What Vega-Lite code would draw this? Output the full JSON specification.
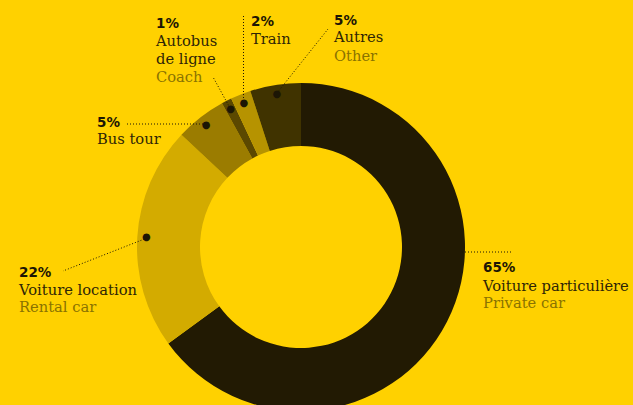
{
  "$schema": "https://vega.github.io/schema/vega-lite/v6.json",
  "autosize": "none",
  "width": 633,
  "height": 405,
  "padding": 0,
  "background": "#FFD100",
  "config": {"view": {"stroke": null}},
  "data": {"values": [
    {"cat": "private", "fr": "Voiture particulière", "en": "Private car", "share": 0.65, "rank": 1},
    {"cat": "rental", "fr": "Voiture location", "en": "Rental car", "share": 0.22, "rank": 2},
    {"cat": "bustour", "fr": "Bus tour", "en": "", "share": 0.05, "rank": 3},
    {"cat": "coach", "fr": "Autobus\nde ligne", "en": "Coach", "share": 0.01, "rank": 4},
    {"cat": "train", "fr": "Train", "en": "", "share": 0.02, "rank": 5},
    {"cat": "other", "fr": "Autres", "en": "Other", "share": 0.05, "rank": 6}
  ]},
  "layer": [
    {
      "mark": {"type": "arc", "x": 301, "y": 247, "outerRadius": 164, "innerRadius": 101},
      "encoding": {
        "theta": {"field": "share", "type": "quantitative", "stack": true},
        "order": {"field": "rank", "type": "quantitative"},
        "color": {"field": "cat", "type": "nominal", "legend": null,
          "scale": {"domain": ["private", "rental", "bustour", "coach", "train", "other"],
                    "range": ["#221a03", "#d3ab00", "#9b7c00", "#5b4800", "#b69300", "#403300"]}}
      }
    },
    {
      "mark": {"type": "text", "x": 301, "y": 247, "radius": 155, "text": "●", "fontSize": 10, "font": "DejaVu Sans", "align": "center", "baseline": "middle"},
      "encoding": {
        "theta": {"field": "share", "type": "quantitative", "stack": true},
        "order": {"field": "rank", "type": "quantitative"},
        "color": {"condition": {"test": "datum.cat == 'private'", "value": "#221a03"}, "value": "#1c1605"}
      }
    },
    {"data": {"values": [{}]}, "mark": {"type": "rule", "stroke": "#1c1605", "strokeDash": [1, 2], "strokeWidth": 1}, "encoding": {"x": {"value": 462}, "y": {"value": 252}, "x2": {"value": 511}, "y2": {"value": 252}}},
    {"data": {"values": [{}]}, "mark": {"type": "rule", "stroke": "#1c1605", "strokeDash": [1, 2], "strokeWidth": 1}, "encoding": {"x": {"value": 147}, "y": {"value": 238}, "x2": {"value": 63}, "y2": {"value": 271}}},
    {"data": {"values": [{}]}, "mark": {"type": "rule", "stroke": "#1c1605", "strokeDash": [1, 2], "strokeWidth": 1}, "encoding": {"x": {"value": 127}, "y": {"value": 124}, "x2": {"value": 206}, "y2": {"value": 124}}},
    {"data": {"values": [{}]}, "mark": {"type": "rule", "stroke": "#1c1605", "strokeDash": [1, 2], "strokeWidth": 1}, "encoding": {"x": {"value": 230}, "y": {"value": 108}, "x2": {"value": 213}, "y2": {"value": 77}}},
    {"data": {"values": [{}]}, "mark": {"type": "rule", "stroke": "#1c1605", "strokeDash": [1, 2], "strokeWidth": 1}, "encoding": {"x": {"value": 243.5}, "y": {"value": 101}, "x2": {"value": 243.5}, "y2": {"value": 16}}},
    {"data": {"values": [{}]}, "mark": {"type": "rule", "stroke": "#1c1605", "strokeDash": [1, 2], "strokeWidth": 1}, "encoding": {"x": {"value": 277}, "y": {"value": 93}, "x2": {"value": 328}, "y2": {"value": 29}}},

    {"transform": [{"filter": "datum.cat == 'private'"}], "mark": {"type": "text", "x": 483, "y": 272, "align": "left", "baseline": "alphabetic", "font": "DejaVu Sans", "fontWeight": "bold", "fontSize": 13.5, "color": "#1c1605"}, "encoding": {"text": {"field": "share", "type": "quantitative", "format": ".0%"}}},
    {"transform": [{"filter": "datum.cat == 'private'"}], "mark": {"type": "text", "x": 483, "y": 291, "align": "left", "baseline": "alphabetic", "font": "DejaVu Serif", "fontSize": 14.7, "color": "#2e2506"}, "encoding": {"text": {"field": "fr"}}},
    {"transform": [{"filter": "datum.cat == 'private'"}], "mark": {"type": "text", "x": 483, "y": 308, "align": "left", "baseline": "alphabetic", "font": "DejaVu Serif", "fontSize": 14.7, "color": "#8a7300"}, "encoding": {"text": {"field": "en"}}},

    {"transform": [{"filter": "datum.cat == 'rental'"}], "mark": {"type": "text", "x": 19, "y": 277, "align": "left", "baseline": "alphabetic", "font": "DejaVu Sans", "fontWeight": "bold", "fontSize": 13.5, "color": "#1c1605"}, "encoding": {"text": {"field": "share", "type": "quantitative", "format": ".0%"}}},
    {"transform": [{"filter": "datum.cat == 'rental'"}], "mark": {"type": "text", "x": 19, "y": 295, "align": "left", "baseline": "alphabetic", "font": "DejaVu Serif", "fontSize": 14.7, "color": "#2e2506"}, "encoding": {"text": {"field": "fr"}}},
    {"transform": [{"filter": "datum.cat == 'rental'"}], "mark": {"type": "text", "x": 19, "y": 312, "align": "left", "baseline": "alphabetic", "font": "DejaVu Serif", "fontSize": 14.7, "color": "#8a7300"}, "encoding": {"text": {"field": "en"}}},

    {"transform": [{"filter": "datum.cat == 'bustour'"}], "mark": {"type": "text", "x": 97, "y": 127, "align": "left", "baseline": "alphabetic", "font": "DejaVu Sans", "fontWeight": "bold", "fontSize": 13.5, "color": "#1c1605"}, "encoding": {"text": {"field": "share", "type": "quantitative", "format": ".0%"}}},
    {"transform": [{"filter": "datum.cat == 'bustour'"}], "mark": {"type": "text", "x": 97, "y": 144, "align": "left", "baseline": "alphabetic", "font": "DejaVu Serif", "fontSize": 14.7, "color": "#2e2506"}, "encoding": {"text": {"field": "fr"}}},

    {"transform": [{"filter": "datum.cat == 'coach'"}], "mark": {"type": "text", "x": 156, "y": 27.5, "align": "left", "baseline": "alphabetic", "font": "DejaVu Sans", "fontWeight": "bold", "fontSize": 13.5, "color": "#1c1605"}, "encoding": {"text": {"field": "share", "type": "quantitative", "format": ".0%"}}},
    {"transform": [{"filter": "datum.cat == 'coach'"}], "mark": {"type": "text", "x": 156, "y": 45.5, "align": "left", "baseline": "alphabetic", "lineBreak": "\n", "lineHeight": 18, "font": "DejaVu Serif", "fontSize": 14.7, "color": "#2e2506"}, "encoding": {"text": {"field": "fr"}}},
    {"transform": [{"filter": "datum.cat == 'coach'"}], "mark": {"type": "text", "x": 156, "y": 81.5, "align": "left", "baseline": "alphabetic", "font": "DejaVu Serif", "fontSize": 14.7, "color": "#8a7300"}, "encoding": {"text": {"field": "en"}}},

    {"transform": [{"filter": "datum.cat == 'train'"}], "mark": {"type": "text", "x": 251, "y": 26, "align": "left", "baseline": "alphabetic", "font": "DejaVu Sans", "fontWeight": "bold", "fontSize": 13.5, "color": "#1c1605"}, "encoding": {"text": {"field": "share", "type": "quantitative", "format": ".0%"}}},
    {"transform": [{"filter": "datum.cat == 'train'"}], "mark": {"type": "text", "x": 251, "y": 43.5, "align": "left", "baseline": "alphabetic", "font": "DejaVu Serif", "fontSize": 14.7, "color": "#2e2506"}, "encoding": {"text": {"field": "fr"}}},

    {"transform": [{"filter": "datum.cat == 'other'"}], "mark": {"type": "text", "x": 334, "y": 24.5, "align": "left", "baseline": "alphabetic", "font": "DejaVu Sans", "fontWeight": "bold", "fontSize": 13.5, "color": "#1c1605"}, "encoding": {"text": {"field": "share", "type": "quantitative", "format": ".0%"}}},
    {"transform": [{"filter": "datum.cat == 'other'"}], "mark": {"type": "text", "x": 334, "y": 42, "align": "left", "baseline": "alphabetic", "font": "DejaVu Serif", "fontSize": 14.7, "color": "#2e2506"}, "encoding": {"text": {"field": "fr"}}},
    {"transform": [{"filter": "datum.cat == 'other'"}], "mark": {"type": "text", "x": 334, "y": 60.5, "align": "left", "baseline": "alphabetic", "font": "DejaVu Serif", "fontSize": 14.7, "color": "#8a7300"}, "encoding": {"text": {"field": "en"}}}
  ]
}
